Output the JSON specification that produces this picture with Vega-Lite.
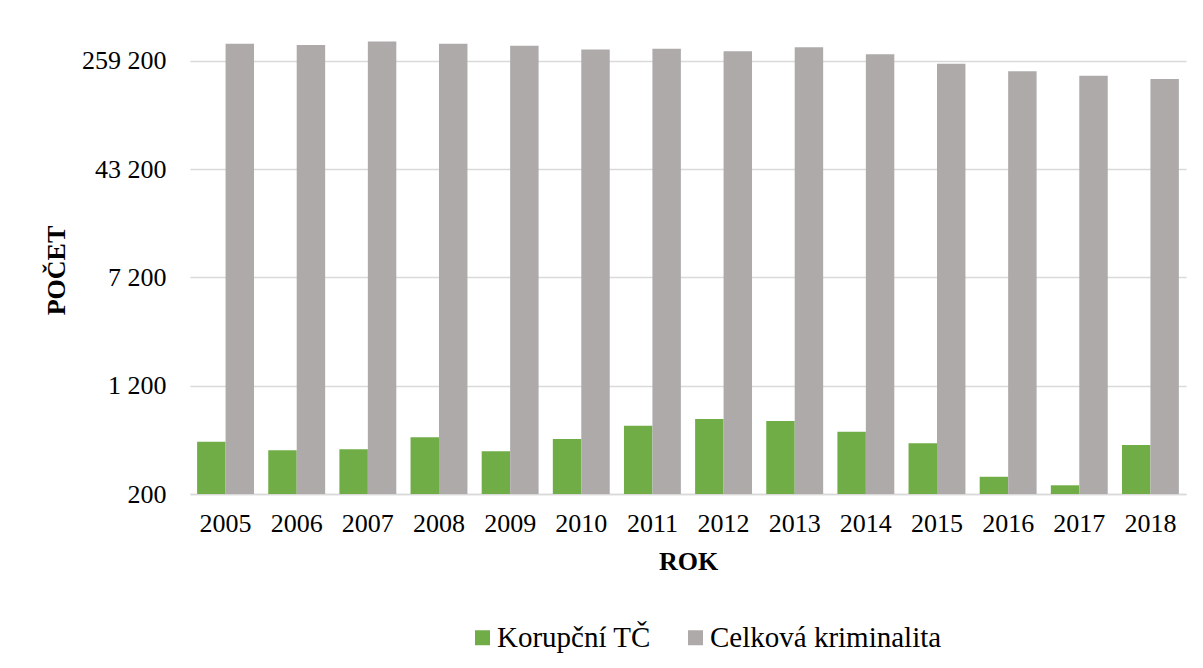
{
  "$schema": "https://vega.github.io/schema/vega-lite/v6.json",
  "width": 996,
  "height": 464,
  "autosize": {"type": "none"},
  "padding": {"left": 190, "top": 30, "right": 17, "bottom": 174},
  "background": "white",
  "config": {
    "view": {"stroke": null},
    "font": "Liberation Serif"
  },
  "data": {
    "values": [
      {"rok": "2005", "serie": "Korupční TČ", "pocet": 475},
      {"rok": "2006", "serie": "Korupční TČ", "pocet": 412},
      {"rok": "2007", "serie": "Korupční TČ", "pocet": 419},
      {"rok": "2008", "serie": "Korupční TČ", "pocet": 511},
      {"rok": "2009", "serie": "Korupční TČ", "pocet": 405},
      {"rok": "2010", "serie": "Korupční TČ", "pocet": 497},
      {"rok": "2011", "serie": "Korupční TČ", "pocet": 619},
      {"rok": "2012", "serie": "Korupční TČ", "pocet": 692},
      {"rok": "2013", "serie": "Korupční TČ", "pocet": 669},
      {"rok": "2014", "serie": "Korupční TČ", "pocet": 561},
      {"rok": "2015", "serie": "Korupční TČ", "pocet": 463},
      {"rok": "2016", "serie": "Korupční TČ", "pocet": 266},
      {"rok": "2017", "serie": "Korupční TČ", "pocet": 231},
      {"rok": "2018", "serie": "Korupční TČ", "pocet": 450},
      {"rok": "2005", "serie": "Celková kriminalita", "pocet": 344060},
      {"rok": "2006", "serie": "Celková kriminalita", "pocet": 336446},
      {"rok": "2007", "serie": "Celková kriminalita", "pocet": 357391},
      {"rok": "2008", "serie": "Celková kriminalita", "pocet": 343799},
      {"rok": "2009", "serie": "Celková kriminalita", "pocet": 332829},
      {"rok": "2010", "serie": "Celková kriminalita", "pocet": 313387},
      {"rok": "2011", "serie": "Celková kriminalita", "pocet": 317177},
      {"rok": "2012", "serie": "Celková kriminalita", "pocet": 304528},
      {"rok": "2013", "serie": "Celková kriminalita", "pocet": 325366},
      {"rok": "2014", "serie": "Celková kriminalita", "pocet": 288660},
      {"rok": "2015", "serie": "Celková kriminalita", "pocet": 247628},
      {"rok": "2016", "serie": "Celková kriminalita", "pocet": 218162},
      {"rok": "2017", "serie": "Celková kriminalita", "pocet": 202303},
      {"rok": "2018", "serie": "Celková kriminalita", "pocet": 192405}
    ]
  },
  "mark": {"type": "bar", "clip": true},
  "encoding": {
    "x": {
      "field": "rok",
      "type": "nominal",
      "scale": {"paddingInner": 0.2, "paddingOuter": 0.1},
      "axis": {
        "title": "ROK",
        "labelAngle": 0,
        "labelFont": "Liberation Serif",
        "labelFontSize": 26,
        "labelColor": "#000000",
        "labelPadding": 16,
        "ticks": false,
        "domainColor": "#D9D9D9",
        "domainWidth": 1.5,
        "titleFont": "Liberation Serif",
        "titleFontSize": 26,
        "titleFontWeight": "bold",
        "titleColor": "#000000",
        "titlePadding": 12
      }
    },
    "xOffset": {
      "field": "serie",
      "type": "nominal",
      "sort": ["Korupční TČ", "Celková kriminalita"],
      "scale": {"paddingInner": 0, "paddingOuter": 0}
    },
    "y": {
      "field": "pocet",
      "type": "quantitative",
      "stack": null,
      "scale": {"type": "log", "base": 6, "domain": [200, 432000], "nice": false},
      "axis": {
        "title": "POČET",
        "values": [200, 1200, 7200, 43200, 259200],
        "labelExpr": "replace(format(datum.value, ','), ',', ' ')",
        "labelFont": "Liberation Serif",
        "labelFontSize": 26,
        "labelColor": "#000000",
        "labelPadding": 24,
        "ticks": false,
        "domain": false,
        "grid": true,
        "gridColor": "#D9D9D9",
        "gridWidth": 1.5,
        "titleFont": "Liberation Serif",
        "titleFontSize": 26,
        "titleFontWeight": "bold",
        "titleColor": "#000000",
        "titleX": -126,
        "titleY": 240,
        "titleAngle": -90,
        "titleAlign": "center",
        "titleBaseline": "alphabetic"
      }
    },
    "color": {
      "field": "serie",
      "type": "nominal",
      "scale": {
        "domain": ["Korupční TČ", "Celková kriminalita"],
        "range": ["#70AD47", "#AEAAAA"]
      },
      "legend": {
        "title": null,
        "orient": "none",
        "direction": "horizontal",
        "legendX": 278,
        "legendY": 593,
        "symbolType": "square",
        "symbolSize": 225,
        "symbolStrokeWidth": 0,
        "symbolOpacity": 1,
        "labelFont": "Liberation Serif",
        "labelFontSize": 29,
        "labelColor": "#000000",
        "labelLimit": 400,
        "labelOffset": 0,
        "columnPadding": 30,
        "padding": 0
      }
    }
  }
}
